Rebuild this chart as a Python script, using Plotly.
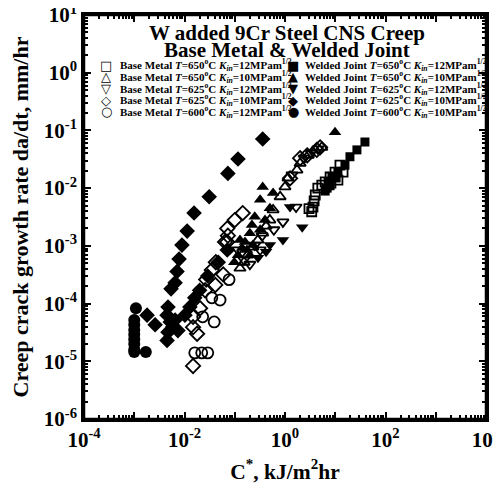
import plotly.graph_objects as go

# ---------------- data (C* in kJ/m^2hr, da/dt in mm/hr) ----------------
bm650_12_x = [3.4, 3.6, 3.8, 4.0, 4.5, 5.4, 6.3, 7.9, 9.9, 12.4, 14.3, 11.3, 8.2, 3.0]
bm650_12_y = [3.9e-3, 4.7e-3, 6.0e-3, 7.6e-3, 1.0e-2, 1.13e-2, 1.28e-2, 1.56e-2, 1.9e-2, 2.5e-2, 1.9e-2, 1.38e-2, 1.22e-2, 4.4e-3]

wj650_12_x = [39, 27, 19.6, 15.6, 11.3, 8.6, 7.2, 6.9, 6.3, 7.9, 10.4]
wj650_12_y = [0.063, 0.046, 0.035, 0.025, 0.019, 0.016, 0.0128, 0.010, 8.9e-3, 0.011, 0.015]

bm650_10_x = [5.4, 4.0, 2.9, 2.0, 1.73, 1.15, 1.0, 0.8, 0.58, 0.50, 0.36, 0.23, 0.18, 0.153, 0.127, 0.29, 0.42]
bm650_10_y = [0.051, 0.046, 0.037, 0.027, 0.0206, 0.015, 0.0105, 7.1e-3, 4.2e-3, 2.8e-3, 1.66e-3, 9.5e-4, 6.9e-4, 5.2e-4, 4.1e-4, 1.26e-3, 2.2e-3]

wj650_10_x = [9.9, 0.36, 0.32, 0.58, 0.5, 0.25, 0.22, 0.2, 0.16, 0.14, 0.175, 0.23, 0.32, 0.4, 0.2, 0.116, 0.098, 0.127]
wj650_10_y = [0.093, 0.0105, 6.3e-3, 8.2e-3, 4.5e-3, 3.2e-3, 2.3e-3, 1.66e-3, 1.17e-3, 9.2e-4, 8.5e-4, 1.03e-3, 1.9e-3, 2.8e-3, 6.9e-4, 6.9e-4, 5.2e-4, 1.26e-3]

bm625_12_x = [4.5, 3.3, 2.4, 1.38, 1.66, 0.91, 0.60, 0.35, 0.25, 0.153, 0.2, 0.116, 0.32]
bm625_12_y = [0.048, 0.041, 0.033, 0.017, 4.7e-3, 2.6e-3, 1.9e-3, 1.5e-3, 1.03e-3, 5.7e-4, 4.8e-4, 8.5e-4, 8.5e-4]

wj625_12_x = [2.2, 0.91, 1.26, 0.42, 0.29, 0.5]
wj625_12_y = [2.1e-3, 1.26e-3, 4.7e-3, 7.9e-4, 6.2e-4, 1.03e-3]

bm625_10_x = [0.0148, 0.0178, 0.0148, 0.0148, 0.0204, 0.0257, 0.041, 0.035, 0.059, 0.071, 0.071, 0.1, 0.144, 0.073, 0.064,
              2.77, 4.3, 5.0, 2.0, 1.26, 0.042, 0.027]
bm625_10_y = [8.3e-6, 3.0e-5, 3.9e-5, 5.9e-5, 8.3e-5, 1.7e-4, 2.1e-4, 3.8e-4, 3.2e-4, 1.17e-3, 2.0e-3, 2.8e-3, 3.7e-3, 1.5e-3, 1.17e-3,
              0.037, 0.046, 0.051, 0.033, 0.0148, 5.2e-4, 2.6e-4]

wj625_10_x = [0.36, 0.116, 0.073, 0.031, 0.0155, 0.0113, 0.0089, 0.0078, 0.0071, 0.0065, 0.0054, 0.0047, 0.0018, 0.0026,
              0.0045, 0.0052, 0.0059, 0.0047, 0.0065, 0.0074, 0.0045,
              0.029, 0.047, 0.071, 0.0128, 0.016, 0.0102, 0.02]
wj625_10_y = [0.071, 0.032, 0.018, 0.0071, 0.0037, 0.0018, 1.03e-3, 5.9e-4, 3.6e-4, 2.3e-4, 1.8e-4, 8.7e-5, 6.3e-5, 4.3e-5,
              6.3e-5, 4.8e-5, 4.0e-5, 3.2e-5, 5.2e-5, 3.4e-5, 2.3e-5,
              3.0e-4, 5.2e-4, 8.5e-4, 8.7e-5, 1.26e-4, 6.3e-5, 1.7e-4]

bm600_12_x = [0.077, 0.051, 0.035, 0.023, 0.039, 0.016, 0.022, 0.029]
bm600_12_y = [2.6e-4, 1.15e-4, 1.26e-4, 5.9e-5, 4.8e-5, 1.4e-5, 1.4e-5, 1.4e-5]

wj600_10_x = [1.08e-3, 1.0e-3, 1.0e-3, 1.0e-3, 1.0e-3, 1.0e-3, 1.0e-3, 1.0e-3, 1.0e-3, 1.7e-3]
wj600_10_y = [8.3e-5, 5.2e-5, 4.3e-5, 3.5e-5, 2.9e-5, 2.4e-5, 2.0e-5, 1.6e-5, 1.45e-5, 1.45e-5]

x_tickvals = [1e-4, 1e-3, 1e-2, 1e-1, 1e0, 1e1, 1e2, 1e3, 1e4]
x_ticktext = ["10<sup>-4</sup>", "", "10<sup>-2</sup>", "", "10<sup>0</sup>", "", "10<sup>2</sup>", "", "10<sup>4</sup>"]
y_tickvals = [1e-6, 1e-5, 1e-4, 1e-3, 1e-2, 1e-1, 1e0, 1e1]
y_ticktext = ["10<sup>-6</sup>", "10<sup>-5</sup>", "10<sup>-4</sup>", "10<sup>-3</sup>",
              "10<sup>-2</sup>", "10<sup>-1</sup>", "10<sup>0</sup>", "10<sup>1</sup>"]

legend_left = [
    ("\u25a1", "650", "12"),
    ("\u25b3", "650", "10"),
    ("\u25bd", "625", "12"),
    ("\u25c7", "625", "10"),
    ("\u25cb", "600", "12"),
]
legend_right = [
    ("\u25a0", "650", "12"),
    ("\u25b2", "650", "10"),
    ("\u25bc", "625", "12"),
    ("\u25c6", "625", "10"),
    ("\u25cf", "600", "10"),
]

# ---------------- figure ----------------
fig = go.Figure()

def add(x, y, symbol, size, filled):
    if filled:
        marker = dict(symbol=symbol, size=size, color="#000000", line=dict(width=0))
    else:
        marker = dict(symbol=symbol + "-open", size=size, color="#000000", line=dict(width=1.8, color="#000000"))
    fig.add_trace(go.Scatter(x=x, y=y, mode="markers", marker=marker, showlegend=False, hoverinfo="skip"))

add(bm650_12_x, bm650_12_y, "square", 9, False)
add(bm650_10_x, bm650_10_y, "triangle-up", 10, False)
add(bm625_12_x, bm625_12_y, "triangle-down", 10, False)
add(bm625_10_x, bm625_10_y, "diamond", 11, False)
add(bm600_12_x, bm600_12_y, "circle", 11, False)
add(wj650_12_x, wj650_12_y, "square", 9, True)
add(wj650_10_x, wj650_10_y, "triangle-up", 11, True)
add(wj625_12_x, wj625_12_y, "triangle-down", 11, True)
add(wj625_10_x, wj625_10_y, "diamond", 12, True)
add(wj600_10_x, wj600_10_y, "circle", 12, True)

# empty trace that registers the overlay axes used for the minor ticks
fig.add_trace(go.Scatter(x=[], y=[], xaxis="x2", yaxis="y2", mode="markers", showlegend=False, hoverinfo="skip"))

serif = "Liberation Serif"

def minor_vals(lo, hi):
    vals = []
    for e in range(lo, hi):
        for k in range(2, 10):
            vals.append(k * 10.0 ** e)
    return vals

major_common = dict(
    type="log", showline=True, linecolor="#000000", linewidth=2.5, mirror="ticks",
    ticks="inside", ticklen=7, tickwidth=2, tickcolor="#000000",
    showgrid=False, zeroline=False, tickmode="array", automargin=False,
    ticklabeloverflow="allow",
    tickfont=dict(family=serif, size=21, color="#000000", weight="bold"),
)
minor_common = dict(
    type="log", showline=False, mirror="ticks", ticks="inside", ticklen=4, tickwidth=1.5, tickcolor="#000000",
    showgrid=False, zeroline=False, tickmode="array", showticklabels=False, automargin=False,
)

fig.update_layout(
    xaxis=dict(**major_common, range=[-4, 4], tickvals=x_tickvals, ticktext=x_ticktext,
               title=dict(text="C<sup>*</sup>, kJ/m<sup>2</sup>hr",
                          font=dict(family=serif, size=21.5, color="#000000", weight="bold"), standoff=13)),
    yaxis=dict(**major_common, range=[-6, 1], tickvals=y_tickvals, ticktext=y_ticktext,
               title=dict(text="Creep crack growth rate da/dt, mm/hr",
                          font=dict(family=serif, size=22, color="#000000", weight="bold"), standoff=13)),
    xaxis2=dict(**minor_common, range=[-4, 4], tickvals=minor_vals(-4, 4), overlaying="x", side="bottom", anchor="y2"),
    yaxis2=dict(**minor_common, range=[-6, 1], tickvals=minor_vals(-6, 1), overlaying="y", side="left", anchor="x2"),
)

ann = []
ann.append(dict(text="<b>W added 9Cr Steel CNS Creep</b>", x=0.505, y=0.955, xref="paper", yref="paper",
                showarrow=False, xanchor="center", yanchor="middle", font=dict(family=serif, size=21, color="#000000")))
ann.append(dict(text="<b>Base Metal &amp; Welded Joint</b>", x=0.505, y=0.913, xref="paper", yref="paper",
                showarrow=False, xanchor="center", yanchor="middle", font=dict(family=serif, size=21, color="#000000")))

row_y = [0.876, 0.847, 0.818, 0.789, 0.760]

def legend_text(prefix, t, k):
    return ("<b>" + prefix + " <i>T</i>=" + t + "<sup>o</sup>C <i>K</i><sub><i>in</i></sub>="
            + k + "MPam<sup>1/2</sup></b>")

for i, (sym, t, k) in enumerate(legend_left):
    ann.append(dict(text=sym, x=0.055, y=row_y[i], xref="paper", yref="paper", showarrow=False,
                    xanchor="center", yanchor="middle", font=dict(family="DejaVu Sans", size=13, color="#000000")))
    ann.append(dict(text=legend_text("Base Metal", t, k), x=0.085, y=row_y[i], xref="paper", yref="paper",
                    showarrow=False, xanchor="left", yanchor="middle", font=dict(family=serif, size=11, color="#000000")))
for i, (sym, t, k) in enumerate(legend_right):
    ann.append(dict(text=sym, x=0.52, y=row_y[i], xref="paper", yref="paper", showarrow=False,
                    xanchor="center", yanchor="middle", font=dict(family="DejaVu Sans", size=13, color="#000000")))
    ann.append(dict(text=legend_text("Welded Joint", t, k), x=0.545, y=row_y[i], xref="paper", yref="paper",
                    showarrow=False, xanchor="left", yanchor="middle", font=dict(family=serif, size=11, color="#000000")))

# page body adds an 8px offset; size/margins chosen so the plot box lands at x 84-486, y 15-419
fig.update_layout(
    width=493, height=480,
    margin=dict(l=76, r=15, t=7, b=69),
    plot_bgcolor="#ffffff", paper_bgcolor="#ffffff",
    annotations=ann, showlegend=False,
    shapes=[dict(type="rect", xref="paper", yref="paper", x0=0, x1=1, y0=0, y1=1,
                 line=dict(color="#000000", width=2.5), layer="above")],
)

fig.write_html("out.html")
